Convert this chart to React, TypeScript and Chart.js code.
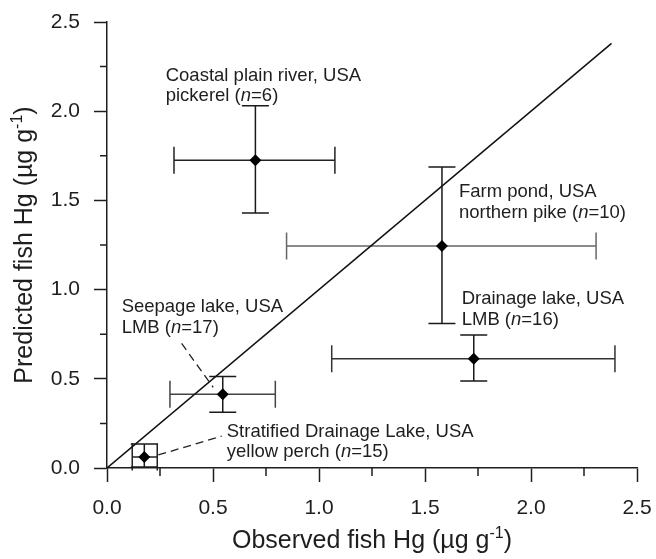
import React, { useEffect, useRef } from "react";
import { Chart, registerables } from "chart.js";

Chart.register(...registerables);

// ---------- data ----------
const sites = [
  "Coastal plain river, USA",
  "Farm pond, USA",
  "Drainage lake, USA",
  "Seepage lake, USA",
  "Stratified Drainage Lake, USA",
];
const species = ["pickerel", "northern pike", "LMB", "LMB", "yellow perch"];
const sampleSizes = [6, 10, 16, 17, 15];

const observed = [0.7, 1.58, 1.73, 0.546, 0.176];
const observedLow = [0.316, 0.847, 1.06, 0.297, 0.119];
const observedHigh = [1.075, 2.307, 2.396, 0.794, 0.237];

const predicted = [1.725, 1.245, 0.612, 0.414, 0.062];
const predictedLow = [1.43, 0.81, 0.487, 0.312, 0.005];
const predictedHigh = [2.03, 1.687, 0.745, 0.513, 0.134];

const oneToOneX = [0, 2.38];
const oneToOneY = [0, 2.38];

const seepageLeaderX = [0.352, 0.501];
const seepageLeaderY = [0.698, 0.452];
const stratifiedLeaderX = [0.242, 0.541];
const stratifiedLeaderY = [0.073, 0.179];

// label anchors (data units, left edge / first baseline)
const labelAnchorX = [0.277, 1.66, 1.673, 0.069, 0.565];
const labelAnchorY = [2.172, 1.517, 0.918, 0.873, 0.174];

const tickValues = [0, 0.5, 1.0, 1.5, 2.0, 2.5];
const minorTickValues = [0.25, 0.75, 1.25, 1.75, 2.25];

const xTitle = [{ t: "Observed fish Hg (\u00b5g g" }, { t: "-1", sup: true }, { t: ")" }];
const yTitle = [{ t: "Predicted fish Hg (\u00b5g g" }, { t: "-1", sup: true }, { t: ")" }];

// ---------- styles ----------
const FONT = "'Liberation Sans', Arial, Helvetica, sans-serif";
const INK = "#1e1e1e";
const hBarColors = ["#222", "#666", "#333", "#444", "#222"];
const CAP = 13.5;
const LABEL_SIZE = 18.5;
const LINE_GAP = 20.5;
const TITLE_SIZE = 25;

type Part = { t: string; i?: boolean; sup?: boolean };

function partFont(p: Part, size: number) {
  const s = p.sup ? Math.round(size * 0.62) : size;
  return `${p.i ? "italic " : ""}${s}px ${FONT}`;
}

function measureRich(ctx: CanvasRenderingContext2D, parts: Part[], size: number) {
  let w = 0;
  for (const p of parts) {
    ctx.font = partFont(p, size);
    w += ctx.measureText(p.t).width;
  }
  return w;
}

function drawRich(ctx: CanvasRenderingContext2D, x: number, y: number, parts: Part[], size: number) {
  let cx = x;
  for (const p of parts) {
    ctx.font = partFont(p, size);
    ctx.fillText(p.t, cx, p.sup ? y - size * 0.4 : y);
    cx += ctx.measureText(p.t).width;
  }
}

const errorBarPlugin = {
  id: "errorBars",
  beforeDatasetsDraw(chart: any) {
    const { ctx, scales } = chart;
    const xs = scales.x;
    const ys = scales.y;
    ctx.save();
    ctx.lineWidth = 1.5;
    for (let i = 0; i < observed.length; i++) {
      const px = xs.getPixelForValue(observed[i]);
      const py = ys.getPixelForValue(predicted[i]);
      const xl = xs.getPixelForValue(observedLow[i]);
      const xh = xs.getPixelForValue(observedHigh[i]);
      const yl = ys.getPixelForValue(predictedLow[i]);
      const yh = ys.getPixelForValue(predictedHigh[i]);
      ctx.strokeStyle = hBarColors[i];
      ctx.beginPath();
      ctx.moveTo(xl, py);
      ctx.lineTo(xh, py);
      ctx.moveTo(xl, py - CAP);
      ctx.lineTo(xl, py + CAP);
      ctx.moveTo(xh, py - CAP);
      ctx.lineTo(xh, py + CAP);
      ctx.stroke();
      ctx.strokeStyle = "#1a1a1a";
      ctx.beginPath();
      ctx.moveTo(px, yl);
      ctx.lineTo(px, yh);
      ctx.moveTo(px - CAP, yl);
      ctx.lineTo(px + CAP, yl);
      ctx.moveTo(px - CAP, yh);
      ctx.lineTo(px + CAP, yh);
      ctx.stroke();
    }
    ctx.restore();
  },
};

const decorPlugin = {
  id: "decor",
  afterDraw(chart: any) {
    const { ctx, scales, chartArea } = chart;
    const xs = scales.x;
    const ys = scales.y;
    ctx.save();
    // minor ticks
    ctx.strokeStyle = INK;
    ctx.lineWidth = 1.5;
    ctx.beginPath();
    for (const v of minorTickValues) {
      const x = xs.getPixelForValue(v);
      ctx.moveTo(x, chartArea.bottom);
      ctx.lineTo(x, chartArea.bottom + 8);
      const y = ys.getPixelForValue(v);
      ctx.moveTo(chartArea.left, y);
      ctx.lineTo(chartArea.left - 7, y);
    }
    ctx.stroke();

    // annotations
    ctx.fillStyle = INK;
    ctx.textBaseline = "alphabetic";
    ctx.textAlign = "left";
    for (let i = 0; i < sites.length; i++) {
      const x = xs.getPixelForValue(labelAnchorX[i]);
      const y = ys.getPixelForValue(labelAnchorY[i]);
      drawRich(ctx, x, y, [{ t: sites[i] }], LABEL_SIZE);
      drawRich(
        ctx,
        x,
        y + LINE_GAP,
        [{ t: species[i] + " (" }, { t: "n", i: true }, { t: "=" + sampleSizes[i] + ")" }],
        LABEL_SIZE
      );
    }

    // axis titles
    const cx = (chartArea.left + chartArea.right) / 2;
    const wx = measureRich(ctx, xTitle, TITLE_SIZE);
    drawRich(ctx, cx - wx / 2, 540, xTitle, TITLE_SIZE);

    const cy = (chartArea.top + chartArea.bottom) / 2;
    const wy = measureRich(ctx, yTitle, TITLE_SIZE);
    ctx.translate(24, cy);
    ctx.rotate(-Math.PI / 2);
    drawRich(ctx, -wy / 2, 0, yTitle, TITLE_SIZE);
    ctx.restore();
  },
};

export default function App() {
  const ref = useRef<HTMLCanvasElement | null>(null);
  useEffect(() => {
    if (!ref.current) return;
    const tickFont = { family: FONT, size: 21 };
    const chart = new Chart(ref.current, {
      type: "scatter",
      data: {
        datasets: [
          {
            label: "means",
            data: observed.map((x, i) => ({ x, y: predicted[i] })),
            pointStyle: "rectRot",
            pointRadius: 6,
            pointHoverRadius: 6,
            backgroundColor: "#000",
            borderColor: "#000",
            borderWidth: 0,
            showLine: false,
          },
          {
            label: "1:1",
            data: oneToOneX.map((x, i) => ({ x, y: oneToOneY[i] })),
            showLine: true,
            pointRadius: 0,
            borderColor: "#111",
            borderWidth: 1.5,
          },
          {
            label: "seepage leader",
            data: seepageLeaderX.map((x, i) => ({ x, y: seepageLeaderY[i] })),
            showLine: true,
            pointRadius: 0,
            borderColor: "#222",
            borderWidth: 1.3,
            borderDash: [8, 5],
          },
          {
            label: "stratified leader",
            data: stratifiedLeaderX.map((x, i) => ({ x, y: stratifiedLeaderY[i] })),
            showLine: true,
            pointRadius: 0,
            borderColor: "#222",
            borderWidth: 1.3,
            borderDash: [8, 5],
          },
        ],
      },
      options: {
        responsive: false,
        animation: false,
        layout: { padding: { top: 14, right: 0, left: 0, bottom: 0 } },
        plugins: { legend: { display: false }, tooltip: { enabled: false } },
        scales: {
          x: {
            type: "linear",
            min: 0,
            max: 2.5,
            afterBuildTicks: (scale: any) => {
              scale.ticks = tickValues.map((v) => ({ value: v }));
            },
            afterFit: (scale: any) => {
              scale.height = 91;
              scale.paddingLeft = 0;
              scale.paddingRight = 15;
            },
            ticks: {
              font: tickFont,
              color: INK,
              padding: 14,
              maxRotation: 0,
              callback: (v: any) => Number(v).toFixed(1),
            },
            grid: {
              drawOnChartArea: false,
              drawTicks: true,
              tickLength: 14,
              tickWidth: 1.5,
              tickColor: INK,
            },
            border: { display: true, color: INK, width: 1.5 },
          },
          y: {
            type: "linear",
            min: 0,
            max: 2.5,
            afterBuildTicks: (scale: any) => {
              scale.ticks = tickValues.map((v) => ({ value: v }));
            },
            afterFit: (scale: any) => {
              scale.width = 99;
              scale.paddingTop = 0;
              scale.paddingBottom = 0;
            },
            ticks: {
              font: tickFont,
              color: INK,
              padding: 14,
              callback: (v: any) => Number(v).toFixed(1),
            },
            grid: {
              drawOnChartArea: false,
              drawTicks: true,
              tickLength: 13,
              tickWidth: 1.5,
              tickColor: INK,
            },
            border: { display: true, color: INK, width: 1.5 },
          },
        },
      } as any,
      plugins: [errorBarPlugin, decorPlugin],
    });
    return () => chart.destroy();
  }, []);
  return (
    <canvas
      ref={ref}
      width={644}
      height={551}
      style={{ display: "block", position: "absolute", left: 8, top: 8 }}
    />
  );
}
